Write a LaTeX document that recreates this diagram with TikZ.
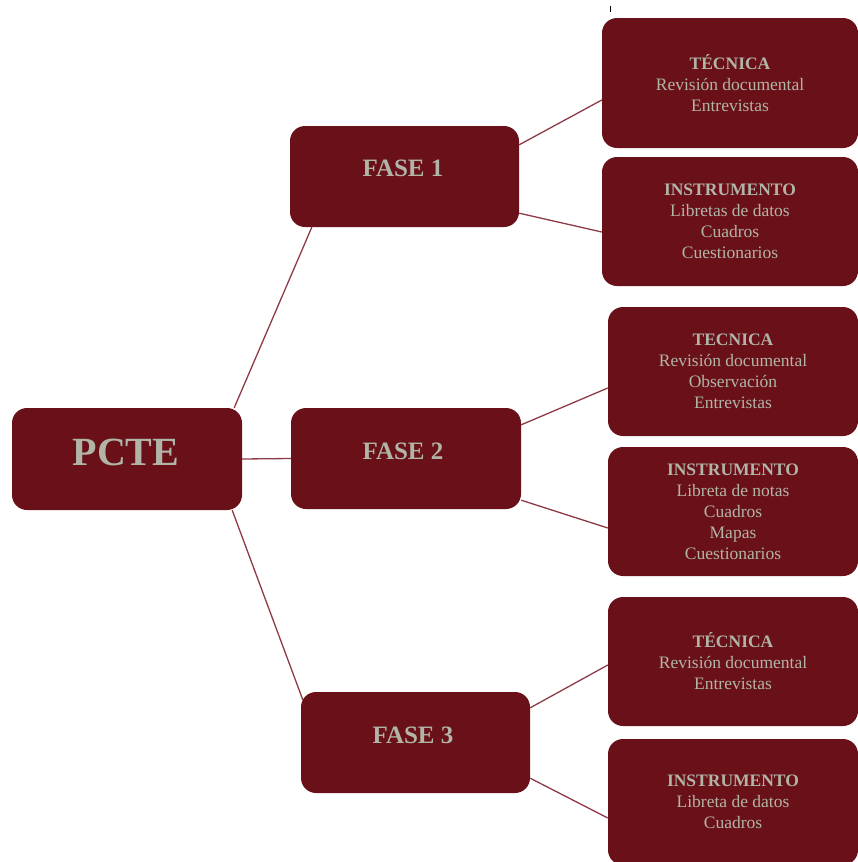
\documentclass[tikz,border=0pt]{standalone}
\usepackage{fontspec}
\setmainfont{Liberation Serif}
\definecolor{boxred}{HTML}{6A1019}
\definecolor{linered}{HTML}{8E3A46}
\definecolor{txtgray}{HTML}{B0B5A8}
\begin{document}
\begin{tikzpicture}[x=1pt,y=-1pt,
  box/.style={fill=boxred,draw=none,rounded corners=15pt,inner sep=0pt,text=txtgray,align=center,
    font=\fontsize{17.5}{21}\selectfont},
  lbl/.style={text=txtgray,inner sep=0pt},
  link/.style={draw=linered,line width=1.3pt}]
\useasboundingbox (0,0) rectangle (858,862);
\draw[line width=1pt] (610,6) -- (610,12);
% main
\node[box,minimum width=230,minimum height=102] (pcte) at (127,459) {};
\node[lbl,font=\fontsize{40}{44}\selectfont\bfseries] (pctet) at (126,452) {PCTE};
\node[box,minimum width=229,minimum height=101] (f1) at (404.5,176.5) {};
\node[lbl,font=\fontsize{25}{28}\selectfont\bfseries] (f1t) at (403,168) {FASE 1};
\node[box,minimum width=230,minimum height=101] (f2) at (406,458.5) {};
\node[lbl,font=\fontsize{25}{28}\selectfont\bfseries] (f2t) at (403,451) {FASE 2};
\node[box,minimum width=229,minimum height=101] (f3) at (415.5,742.5) {};
\node[lbl,font=\fontsize{25}{28}\selectfont\bfseries] (f3t) at (413,735) {FASE 3};
% leaves
\node[box,minimum width=256,minimum height=130] (t1) at (730,83) {\textbf{TÉCNICA}\\Revisión documental\\Entrevistas};
\node[box,minimum width=256,minimum height=129] (i1) at (730,221.5) {\textbf{INSTRUMENTO}\\Libretas de datos\\Cuadros\\Cuestionarios};
\node[box,minimum width=250,minimum height=129] (t2) at (733,371.5) {\textbf{TECNICA}\\Revisión documental\\Observación\\Entrevistas};
\node[box,minimum width=250,minimum height=129] (i2) at (733,511.5) {\textbf{INSTRUMENTO}\\Libreta de notas\\Cuadros\\Mapas\\Cuestionarios};
\node[box,minimum width=250,minimum height=129] (t3) at (733,661.5) {\textbf{TÉCNICA}\\Revisión documental\\Entrevistas};
\node[box,minimum width=250,minimum height=126] (i3) at (733,802) {\textbf{INSTRUMENTO}\\Libreta de datos\\Cuadros};
% connectors
\draw[link] ([xshift=-8]pcte.north east) -- ([xshift=22]f1.south west);
\draw[link] (pcte.east) -- (f2.west);
\draw[link] ([xshift=-10]pcte.south east) -- ([xshift=2,yshift=-8]f3.north west);
\draw[link] ([yshift=-19]f1.north east) -- ([yshift=-17]t1.west);
\draw[link] ([yshift=14]f1.south east) -- ([yshift=-10.5]i1.west);
\draw[link] ([yshift=-17]f2.north east) -- ([yshift=-16.5]t2.west);
\draw[link] ([yshift=9]f2.south east) -- ([yshift=-16.5]i2.west);
\draw[link] ([yshift=-16]f3.north east) -- ([yshift=-3.5]t3.west);
\draw[link] ([yshift=15]f3.south east) -- ([yshift=-16]i3.west);
\end{tikzpicture}
\end{document}
